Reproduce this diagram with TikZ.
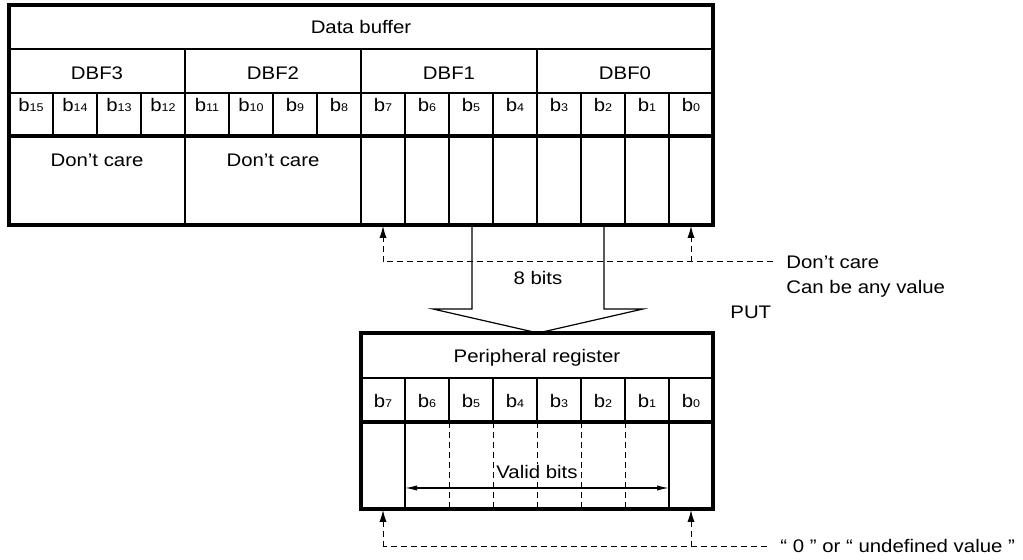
\documentclass[tikz,border=0pt]{standalone}
\usepackage{fontspec}
\setmainfont{Liberation Sans}[FakeStretch=1.12]
\usetikzlibrary{arrows.meta}
\definecolor{ink}{HTML}{000000}
\newcommand\bitlbl[1]{b{\fontsize{5.6}{6}\selectfont #1}}
\tikzset{
  % ---- table lines -----------------------------------------------
  tblframe/.style  = {draw=ink, line width=1.7pt},
  tblrule/.style   = {draw=ink, line width=.6pt},
  dashrule/.style  = {draw=ink, line width=.5pt, dash pattern=on 3pt off 2pt},
  % ---- texts -----------------------------------------------------
  lbl/.style       = {font=\fontsize{9.1}{11}\selectfont, text=ink,
                      inner sep=0pt, anchor=base},
  note/.style      = {lbl, anchor=base west},
  % ---- arrows ----------------------------------------------------
  uparrow/.style   = {dashrule, -{Latex[length=6pt,width=3.6pt]}},
  validspan/.style = {tblrule, {Latex[length=6pt,width=2.6pt]}-{Latex[length=6pt,width=2.6pt]}},
  bigarrow/.style  = {draw=ink, line width=.6pt, line join=miter},
}
\begin{document}
\begin{tikzpicture}[x=.5pt, y=-.5pt]
  \useasboundingbox (0,0) rectangle (1023,560);
  % data buffer
  \draw[tblrule] (9,49) -- (713,49) (9,93) -- (713,93);
  \draw[tblrule] (185,49) -- (185,93) (361,49) -- (361,93) (537,49) -- (537,93);
  \draw[tblrule] (53,93) -- (53,136) (97,93) -- (97,136) (141,93) -- (141,136)
    (185,93) -- (185,136) (229,93) -- (229,136) (273,93) -- (273,136)
    (317,93) -- (317,136) (361,93) -- (361,136) (405,93) -- (405,136)
    (449,93) -- (449,136) (493,93) -- (493,136) (537,93) -- (537,136)
    (581,93) -- (581,136) (625,93) -- (625,136) (669,93) -- (669,136);
  \draw[tblrule] (185,136) -- (185,225) (361,136) -- (361,225)
    (405,136) -- (405,225) (449,136) -- (449,225) (493,136) -- (493,225)
    (537,136) -- (537,225) (581,136) -- (581,225) (625,136) -- (625,225)
    (669,136) -- (669,225);
  \draw[tblframe] (9,136) -- (713,136);
  \draw[tblframe] (9,5) rectangle (713,225);
  \node[lbl] (buf) at (361,34) {Data buffer};
  \node[lbl] (dbf3) at (97,80) {DBF3};
  \node[lbl] (dbf2) at (273,80) {DBF2};
  \node[lbl] (dbf1) at (449,80) {DBF1};
  \node[lbl] (dbf0) at (625,80) {DBF0};
  \node[lbl] (b15) at (31,112) {\bitlbl{15}};
  \node[lbl] (b14) at (75,112) {\bitlbl{14}};
  \node[lbl] (b13) at (119,112) {\bitlbl{13}};
  \node[lbl] (b12) at (163,112) {\bitlbl{12}};
  \node[lbl] (b11) at (207,112) {\bitlbl{11}};
  \node[lbl] (b10) at (251,112) {\bitlbl{10}};
  \node[lbl] (b9) at (295,112) {\bitlbl{9}};
  \node[lbl] (b8) at (339,112) {\bitlbl{8}};
  \node[lbl] (b7) at (383,112) {\bitlbl{7}};
  \node[lbl] (b6) at (427,112) {\bitlbl{6}};
  \node[lbl] (b5) at (471,112) {\bitlbl{5}};
  \node[lbl] (b4) at (515,112) {\bitlbl{4}};
  \node[lbl] (b3) at (559,112) {\bitlbl{3}};
  \node[lbl] (b2) at (603,112) {\bitlbl{2}};
  \node[lbl] (b1) at (647,112) {\bitlbl{1}};
  \node[lbl] (b0) at (691,112) {\bitlbl{0}};
  \node[lbl] (dcHi) at (97,167) {Don’t care};
  \node[lbl] (dcMid) at (273,167) {Don’t care};
  % don't care arrows
  \coordinate (dcA) at (383,226);
  \coordinate (dcB) at (691,226);
  \coordinate (dcEnd) at (773,262);
  \draw[dashrule] (dcEnd) -- (383,262);
  \draw[uparrow] (383,262) -- (dcA);
  \draw[uparrow] (691,262) -- (dcB);
  \node[note] (dcNote) at (786,269) {Don’t care};
  \node[note] (anyNote) at (786,294) {Can be any value};
  \node[note] (put) at (730,319) {PUT};
  % transfer arrow
  \coordinate (bufL) at (472,226);
  \coordinate (bufR) at (604,226);
  \coordinate (regTop) at (538,333);
  \draw[bigarrow] (bufL) -- (472,309) -- (433,309) -- (regTop)
    -- (643,309) -- (604,309) -- (bufR);
  \node[lbl] (eight) at (538,285) {8 bits};
  % peripheral register
  \draw[dashrule] (449,422) -- (449,509) (493,422) -- (493,509)
    (537,422) -- (537,509) (581,422) -- (581,509) (625,422) -- (625,509);
  \node[lbl, fill=white, inner sep=1pt] (valid) at (537,479) {Valid bits};
  \coordinate (vL) at (405,488);
  \coordinate (vR) at (669,488);
  \draw[validspan] (vL) -- (vR);
  \draw[tblrule] (361,378) -- (713,378);
  \draw[tblrule] (405,378) -- (405,422) (449,378) -- (449,422)
    (493,378) -- (493,422) (537,378) -- (537,422) (581,378) -- (581,422)
    (625,378) -- (625,422) (669,378) -- (669,422);
  \draw[tblrule] (405,422) -- (405,509) (669,422) -- (669,509);
  \draw[tblframe] (361,422) -- (713,422);
  \draw[tblframe] (361,333) rectangle (713,509);
  \node[lbl] (reg) at (537,363) {Peripheral register};
  \node[lbl] (r7) at (383,408) {\bitlbl{7}};
  \node[lbl] (r6) at (427,408) {\bitlbl{6}};
  \node[lbl] (r5) at (471,408) {\bitlbl{5}};
  \node[lbl] (r4) at (515,408) {\bitlbl{4}};
  \node[lbl] (r3) at (559,408) {\bitlbl{3}};
  \node[lbl] (r2) at (603,408) {\bitlbl{2}};
  \node[lbl] (r1) at (647,408) {\bitlbl{1}};
  \node[lbl] (r0) at (691,408) {\bitlbl{0}};
  % zero / undefined arrows
  \coordinate (zA) at (383,510);
  \coordinate (zB) at (691,510);
  \coordinate (zEnd) at (767,547);
  \draw[dashrule] (zEnd) -- (383,547);
  \draw[uparrow] (383,547) -- (zA);
  \draw[uparrow] (691,547) -- (zB);
  \node[note] (zNote) at (780,553) {“ 0 ” or “ undefined value ”};
\end{tikzpicture}
\end{document}
